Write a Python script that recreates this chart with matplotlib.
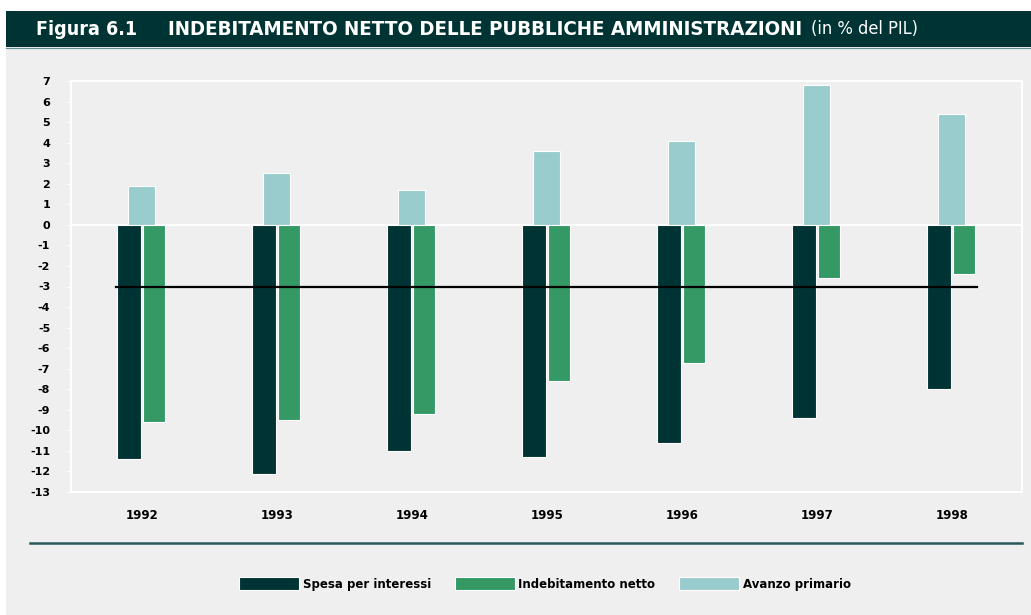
import matplotlib
matplotlib.use("Agg")
import matplotlib.pyplot as plt
from matplotlib.patches import Rectangle, Patch
from matplotlib.lines import Line2D
import numpy as np

plt.rcParams['axes.unicode_minus'] = False
plt.rcParams['font.family'] = ['DejaVu Sans']

# ---- data ----
years = ["1992", "1993", "1994", "1995", "1996", "1997", "1998"]
spesa_interessi = [-11.4, -12.1, -11.0, -11.3, -10.6, -9.4, -8.0]
indebitamento_netto = [-9.6, -9.5, -9.2, -7.6, -6.7, -2.6, -2.4]
avanzo_primario = [1.9, 2.5, 1.7, 3.6, 4.1, 6.8, 5.4]
soglia = -3
y_ticks = list(range(7, -14, -1))
y_tick_labels = [str(v) for v in y_ticks]
series_names = ["Spesa per interessi", "Indebitamento netto", "Avanzo primario"]

title_a = "Figura 6.1"
title_b = "INDEBITAMENTO NETTO DELLE PUBBLICHE AMMINISTRAZIONI"
title_c = "(in % del PIL)"

# ---- style ----
c_dark = "#003333"
c_green = "#359966"
c_light = "#99cccc"
c_bg = "#efefef"

W, H = 1031, 615
fig = plt.figure(figsize=(W / 100, H / 100), dpi=100)
fig.patch.set_facecolor("white")

def fx(px):
    return px / W

def fy(py):
    return 1 - py / H

# gray background
fig.add_artist(Rectangle((fx(6), 0), 1 - fx(6), fy(11), transform=fig.transFigure,
                         facecolor=c_bg, edgecolor="none", zorder=-10))
# title band
fig.add_artist(Rectangle((fx(6), fy(47)), 1 - fx(6), fy(11) - fy(47), transform=fig.transFigure,
                         facecolor=c_dark, edgecolor="none", zorder=-5))
fig.add_artist(Line2D([fx(6), 1], [fy(47.5), fy(47.5)], transform=fig.transFigure,
                      color="#5f8f8f", lw=0.8))

ax = fig.add_axes([fx(71), fy(492), fx(1022) - fx(71), fy(81) - fy(492)])
ax.set_facecolor(c_bg)

x = np.arange(len(years))
ax.bar(x, avanzo_primario, width=0.2, color=c_light, edgecolor="white", linewidth=0.8, zorder=2)
ax.bar(x - 0.096, spesa_interessi, width=0.178, color=c_dark, edgecolor="white", linewidth=0.8, zorder=2)
ax.bar(x + 0.089, indebitamento_netto, width=0.16, color=c_green, edgecolor="white", linewidth=0.8, zorder=2)

ax.axhline(0, color="white", lw=1.5, zorder=1)
ax.plot([x[0] - 0.19, x[-1] + 0.19], [soglia, soglia], color="black", lw=1.6, zorder=4)

ax.set_xlim(-0.526, 6.52)
ax.set_ylim(-13, 7)
ax.set_yticks(y_ticks)
ax.set_yticklabels(y_tick_labels, fontsize=8, fontweight="bold")
ax.set_xticks(x)
ax.set_xticklabels(years, fontsize=8.5, fontweight="bold")
ax.tick_params(axis="y", length=3, color="white", pad=12)
ax.tick_params(axis="x", length=0, pad=12)
for s in ax.spines.values():
    s.set_color("white")
    s.set_linewidth(1.5)

# separator line
fig.add_artist(Line2D([fx(30), fx(1022)], [fy(543), fy(543)], transform=fig.transFigure,
                      color="#2a5858", lw=1.8))

# legend
handles = [Patch(facecolor=c, edgecolor="white", linewidth=0.8) for c in (c_dark, c_green, c_light)]
fig.legend(handles, series_names, loc="center", bbox_to_anchor=(fx(545), fy(584)), ncol=3,
           frameon=False, handlelength=5.1, handleheight=1.2,
           handletextpad=0.3, columnspacing=2.0, prop={"weight": "bold", "size": 8.5})

# title pieces fitted to target widths
fig.canvas.draw()
renderer = fig.canvas.get_renderer()

def fitted_text(s, x0, x1, weight, fmax):
    t = fig.text(fx(x0), fy(29.5), s, color="white", fontsize=12, fontweight=weight,
                 fontstretch="condensed", va="center", ha="left")
    w = t.get_window_extent(renderer).width
    t.set_fontsize(min(fmax, 12 * (x1 - x0) / w))
    return t

fitted_text(title_a, 36, 152, "bold", 14)
fitted_text(title_b, 168, 805, "bold", 15)
fitted_text(title_c, 811, 918, "normal", 14)

fig.savefig("out.png", dpi=100, facecolor=fig.get_facecolor())
